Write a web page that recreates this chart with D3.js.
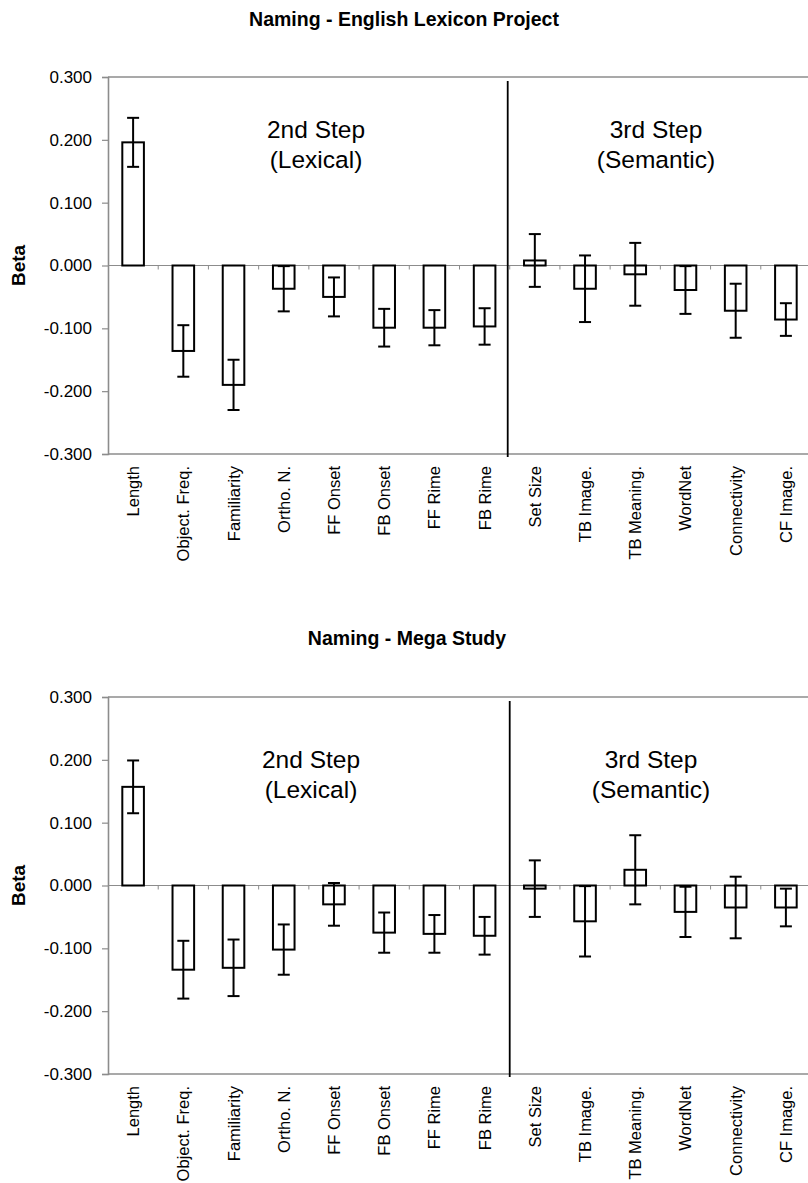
<!DOCTYPE html>
<html>
<head>
<meta charset="utf-8">
<script src="https://cdn.jsdelivr.net/npm/d3@7"></script>
<style>
  html, body { margin: 0; padding: 0; background: #fff; }
  svg { display: block; font-family: "Liberation Sans", Arial, sans-serif; }
</style>
</head>
<body>
<svg id="chart" width="808" height="1183"></svg>
<script>
// ---------------- data ----------------
const categories = ["Length", "Object. Freq.", "Familiarity", "Ortho. N.", "FF Onset", "FB Onset",
  "FF Rime", "FB Rime", "Set Size", "TB Image.", "TB Meaning.", "WordNet", "Connectivity", "CF Image."];
const yTicks = [0.3, 0.2, 0.1, 0.0, -0.1, -0.2, -0.3];
const panelTitles = ["Naming - English Lexicon Project", "Naming - Mega Study"];
const stepLabels = [["2nd Step", "(Lexical)"], ["3rd Step", "(Semantic)"]];
const lexicalCount = 8; // categories in 2nd step

const elpBeta = [0.196, -0.136, -0.190, -0.037, -0.050, -0.099, -0.099, -0.097,
  0.008, -0.037, -0.014, -0.039, -0.072, -0.086];
const elpErr = [0.039, 0.041, 0.040, 0.036, 0.031, 0.030, 0.028, 0.029,
  0.042, 0.053, 0.050, 0.038, 0.043, 0.026];
const megaBeta = [0.157, -0.134, -0.131, -0.102, -0.030, -0.075, -0.077, -0.080,
  -0.005, -0.057, 0.025, -0.042, -0.035, -0.035];
const megaErr = [0.042, 0.046, 0.045, 0.040, 0.034, 0.032, 0.030, 0.030,
  0.045, 0.056, 0.055, 0.040, 0.049, 0.030];

// ---------------- drawing ----------------
const svg = d3.select("#chart");
const axisGray = "#8c8c8c";

function drawPanel(cfg) {
  const g = svg.append("g").attr("transform", `translate(0,${cfg.top})`);
  const plotTop = 0, plotBottom = 377;
  const x = d3.scaleBand().domain(categories).range([108, 811]).paddingInner(0).paddingOuter(0);
  const y = d3.scaleLinear().domain([-0.3, 0.3]).range([plotBottom, plotTop]);
  const data = categories.map((c, i) => ({ c, v: cfg.values[i], e: cfg.errors[i] }));

  // title
  svg.append("text").attr("x", cfg.titleX).attr("y", cfg.titleY)
    .attr("text-anchor", "middle").attr("font-weight", "bold").attr("font-size", 19.5)
    .attr("fill", "#000").text(cfg.title);

  // plot frame: top and bottom border
  g.append("line").attr("x1", 108).attr("x2", 811).attr("y1", y(0.3)).attr("y2", y(0.3))
    .attr("stroke", axisGray).attr("stroke-width", 1.6);
  g.append("line").attr("x1", 108).attr("x2", 811).attr("y1", y(-0.3)).attr("y2", y(-0.3))
    .attr("stroke", axisGray).attr("stroke-width", 1.6);

  // y axis
  const yAxis = d3.axisLeft(y).tickValues(yTicks).tickFormat(d3.format(".3f")).tickSize(6).tickPadding(10);
  const ya = g.append("g").attr("transform", "translate(108,0)").call(yAxis);
  ya.select(".domain").attr("stroke", axisGray).attr("stroke-width", 1.6);
  ya.selectAll(".tick line").attr("stroke", axisGray).attr("stroke-width", 1.2);
  ya.selectAll(".tick text").attr("font-size", 17).attr("fill", "#000")
    .attr("font-family", "'Liberation Sans', Arial, sans-serif")
    .text(d => d3.format(".3f")(d).replace("−", "-"));

  // zero line with category-boundary ticks
  g.append("line").attr("x1", 108).attr("x2", 811).attr("y1", y(0)).attr("y2", y(0))
    .attr("stroke", axisGray).attr("stroke-width", 1);
  g.selectAll(".zt").data(categories.slice(1)).join("line")
    .attr("x1", d => x(d)).attr("x2", d => x(d))
    .attr("y1", y(0)).attr("y2", y(0) + 4)
    .attr("stroke", axisGray).attr("stroke-width", 1);

  // bars
  const bw = x.bandwidth() * 0.43;
  g.selectAll(".bar").data(data).join("rect")
    .attr("x", d => x(d.c) + x.bandwidth() / 2 - bw / 2)
    .attr("width", bw)
    .attr("y", d => y(Math.max(0, d.v)))
    .attr("height", d => Math.abs(y(d.v) - y(0)))
    .attr("fill", "#fff").attr("stroke", "#000").attr("stroke-width", 2);

  // error bars
  const cap = 6;
  const eb = g.selectAll(".eb").data(data).join("g");
  eb.append("line")
    .attr("x1", d => x(d.c) + x.bandwidth() / 2).attr("x2", d => x(d.c) + x.bandwidth() / 2)
    .attr("y1", d => y(d.v + d.e)).attr("y2", d => y(d.v - d.e))
    .attr("stroke", "#000").attr("stroke-width", 2);
  eb.append("line")
    .attr("x1", d => x(d.c) + x.bandwidth() / 2 - cap).attr("x2", d => x(d.c) + x.bandwidth() / 2 + cap)
    .attr("y1", d => y(d.v + d.e)).attr("y2", d => y(d.v + d.e))
    .attr("stroke", "#000").attr("stroke-width", 2);
  eb.append("line")
    .attr("x1", d => x(d.c) + x.bandwidth() / 2 - cap).attr("x2", d => x(d.c) + x.bandwidth() / 2 + cap)
    .attr("y1", d => y(d.v - d.e)).attr("y2", d => y(d.v - d.e))
    .attr("stroke", "#000").attr("stroke-width", 2);

  // divider between steps
  const divX = x(categories[lexicalCount]) + cfg.divShift;
  g.append("line").attr("x1", divX).attr("x2", divX)
    .attr("y1", 4).attr("y2", plotBottom + 3)
    .attr("stroke", "#000").attr("stroke-width", 1.8);

  // step annotations
  const ann = [
    { lines: stepLabels[0], cx: cfg.ann1X },
    { lines: stepLabels[1], cx: cfg.ann2X }
  ];
  ann.forEach(a => {
    a.lines.forEach((t, k) => {
      g.append("text").attr("x", a.cx).attr("y", cfg.annY + k * 30)
        .attr("text-anchor", "middle").attr("font-size", 24.5).attr("fill", "#000").text(t);
    });
  });

  // category labels (rotated)
  g.selectAll(".cat").data(categories).join("text")
    .attr("transform", d => `translate(${x(d) + x.bandwidth() / 2 + 6},${plotBottom + 12}) rotate(-90)`)
    .attr("text-anchor", "end").attr("font-size", 16.5).attr("fill", "#000").text(d => d);

  // y label
  g.append("text")
    .attr("transform", `translate(25,${y(0)}) rotate(-90)`)
    .attr("text-anchor", "middle").attr("font-weight", "bold").attr("font-size", 19)
    .attr("fill", "#000").text("Beta");
}

drawPanel({ top: 77, title: panelTitles[0], titleX: 404, titleY: 26, values: elpBeta, errors: elpErr,
  divShift: -2, ann1X: 316, ann2X: 656, annY: 61 });
drawPanel({ top: 697, title: panelTitles[1], titleX: 407, titleY: 645, values: megaBeta, errors: megaErr,
  divShift: 0, ann1X: 311, ann2X: 651, annY: 71 });
</script>
</body>
</html>
